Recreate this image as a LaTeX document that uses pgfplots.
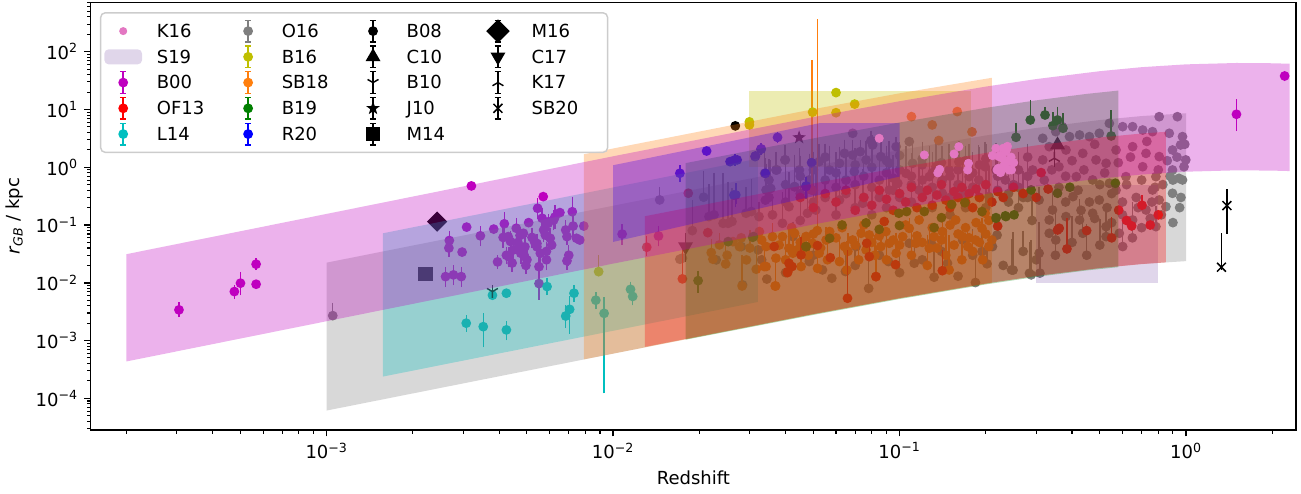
\documentclass[border=0pt]{standalone}
\usepackage{fontspec}
\setmainfont{DejaVu Sans}
\usepackage{pgfplots}
\usepackage{pgfplotstable}
\pgfplotsset{compat=1.18}
\usetikzlibrary{plotmarks}
\definecolor{mplm}{RGB}{191,0,191}
\definecolor{mplr}{RGB}{255,0,0}
\definecolor{mplc}{RGB}{0,191,191}
\definecolor{tgray}{RGB}{127,127,127}
\definecolor{mply}{RGB}{191,191,0}
\definecolor{torange}{RGB}{255,127,14}
\definecolor{mplg}{RGB}{0,128,0}
\definecolor{mplb}{RGB}{0,0,255}
\definecolor{tpink}{RGB}{227,119,194}
\definecolor{rpurple}{RGB}{102,51,153}

\pgfdeclareplotmark{fivestar}{%
  \pgfpathmoveto{\pgfpointpolar{90}{\pgfplotmarksize}}%
  \pgfpathlineto{\pgfpointpolar{126}{0.4\pgfplotmarksize}}%
  \pgfpathlineto{\pgfpointpolar{162}{\pgfplotmarksize}}%
  \pgfpathlineto{\pgfpointpolar{198}{0.4\pgfplotmarksize}}%
  \pgfpathlineto{\pgfpointpolar{234}{\pgfplotmarksize}}%
  \pgfpathlineto{\pgfpointpolar{270}{0.4\pgfplotmarksize}}%
  \pgfpathlineto{\pgfpointpolar{306}{\pgfplotmarksize}}%
  \pgfpathlineto{\pgfpointpolar{342}{0.4\pgfplotmarksize}}%
  \pgfpathlineto{\pgfpointpolar{18}{\pgfplotmarksize}}%
  \pgfpathlineto{\pgfpointpolar{54}{0.4\pgfplotmarksize}}%
  \pgfpathclose\pgfusepathqfill}

\pgfplotstableread{
x y ep em
3.05e-4 3.4e-3 0.2 0.15
4.76e-4 7.05e-3 0.15 0.15
5.0e-4 9.85e-3 0.38 0.3
5.67e-4 0.021 0.12 0.1
5.67e-4 9.45e-3 0 0
3.2e-3 0.475 0 0
5.7e-3 0.31 0 0
2.68e-3 0.054 0.3 0.25
2.67e-3 0.040 0.2 0.2
2.97e-3 0.034 0 0
3.08e-3 0.092 0 0
3.44e-3 0.065 0.3 0.25
3.83e-3 0.085 0 0
3.95e-3 0.023 0.15 0.15
4.17e-3 0.105 0.4 0.3
4.13e-3 0.061 0.3 0.25
4.24e-3 0.030 0.2 0.2
4.30e-3 0.063 0 0
4.38e-3 0.052 0.35 0.3
4.44e-3 0.022 0.2 0.2
4.48e-3 0.037 0.3 0.25
4.59e-3 0.088 0.3 0.25
4.65e-3 0.050 0 0
4.73e-3 0.066 0.2 0.2
4.76e-3 0.0325 0.3 0.25
4.86e-3 0.072 0 0
4.92e-3 0.042 0.3 0.25
4.96e-3 0.020 0.2 0.2
5.0e-3 0.025 0.3 0.25
5.07e-3 0.110 0 0
5.21e-3 0.061 0.3 0.25
5.31e-3 0.052 0.2 0.2
5.42e-3 0.042 0 0
5.45e-3 0.195 0.3 0.25
5.51e-3 0.019 0.6 0.4
5.57e-3 0.0325 0.3 0.25
5.65e-3 0.131 0.3 0.25
5.72e-3 0.082 0.4 0.3
5.80e-3 0.067 0 0
5.85e-3 0.025 0.3 0.25
5.95e-3 0.114 0.2 0.2
6.03e-3 0.059 0.3 0.25
6.10e-3 0.045 0 0
6.20e-3 0.122 0.3 0.25
6.26e-3 0.137 0.4 0.3
6.52e-3 0.164 0 0
6.83e-3 0.082 0.3 0.25
6.90e-3 0.063 0.2 0.2
7.00e-3 0.030 0.3 0.25
7.20e-3 0.170 0.6 0.4
7.25e-3 0.096 0.3 0.25
7.45e-3 0.059 0 0
7.65e-3 0.055 0 0
7.90e-3 0.096 0 0
2.60e-3 0.0128 0.3 0.25
2.77e-3 0.0137 0.3 0.25
2.95e-3 0.0128 0.3 0.25
5.51e-3 0.0097 0.6 0.4
5.85e-3 0.035 0.3 0.25
5.93e-3 0.107 0 0
6.90e-3 0.024 0.2 0.2
5.42e-3 0.048 0.3 0.25
4.89e-3 0.030 0 0
4.69e-3 0.042 0.2 0.2
4.33e-3 0.028 0.3 0.25
0.01075 0.0697 0.3 0.25
0.0144 0.0646 0.3 0.25
1.50 8.26 0.61 0.42
2.21 38.0 0.08 0.08
}\tabBoo

\pgfplotstableread{
x y ep em
3.07e-3 2.0e-3 0.2 0.2
3.52e-3 1.74e-3 0.53 0.5
4.24e-3 1.53e-3 0.25 0.25
3.79e-3 6.1e-3 0 0
4.24e-3 6.6e-3 0 0
5.88e-3 8.6e-3 0.25 0.2
6.83e-3 2.66e-3 0.35 0.3
7.05e-3 3.47e-3 0.47 0.57
7.30e-3 6.6e-3 0.2 0.2
8.70e-3 5.0e-3 0.2 0.2
9.30e-3 2.96e-3 0.66 0.953
0.0115 7.7e-3 0.2 0.2
0.0117 5.8e-3 0.2 0.2
}\tabLfourteen

\pgfplotstableread{
x y ep em
1.05e-3 2.7e-3 0.48 0
0.0207 0.303 1.53 0
0.0216 0.140 2.2 0
0.0225 0.150 3.7 0
0.0242 0.107 5.5 0
0.0252 0.107 3.6 0
0.0260 0.115 2.3 0
0.0304 0.171 2.2 0
0.0323 0.140 0.6 0
0.0340 0.27 3.7 0
0.0355 0.43 1.7 0
0.0373 0.90 0 0
0.0399 1.34 0.35 0
0.0430 0.46 2.15 0
0.0189 0.080 2.0 0
0.0171 0.0256 0 0
0.0229 0.0249 0 0
0.0280 0.0423 0.5 0
0.0321 0.0371 0 0
0.0424 0.063 0.6 0
0.0485 0.0249 0 0
0.01745 0.0267 0 0
0.01454 0.272 0.5 0
0.0338 0.785 1.2 0
0.0370 0.897 0.8 0
0.0398 1.34 0.6 0
0.0430 0.462 2.0 0
0.0447 0.897 1.1 0
0.0484 0.603 1.5 0
0.0524 1.25 0.8 0
0.0570 0.897 1.3 0
0.0617 1.17 0.7 0
0.0642 1.74 0.5 0
0.0686 1.63 0.6 0
0.0729 1.86 0.4 0
0.0764 1.34 0.9 0
0.0805 2.43 0.3 0
0.0860 1.53 0.8 0
0.0920 1.17 1.1 0
0.0986 0.528 2.5 0
0.1053 0.785 1.6 0
0.111 1.17 1.0 0
0.120 1.10 1.2 0
0.127 0.688 2.0 0
0.134 1.02 1.3 0
0.141 0.603 2.4 0
0.149 0.897 1.5 0
0.161 1.25 1.0 0
0.175 0.688 2.2 0
0.189 0.603 2.5 0
0.199 1.02 1.4 0
0.217 0.897 1.6 0
0.234 0.603 2.2 0
0.0342 0.404 1.5 0
0.0411 0.208 2.5 0
0.0510 0.182 3.0 0
0.0617 0.272 2.0 0
0.0744 0.238 2.5 0
0.0920 0.404 1.5 0
0.117 0.404 1.8 0
0.141 0.354 2.0 0
0.166 0.404 1.5 0
0.205 0.310 2.0 0
0.0390 0.1071 2.0 0
0.0477 0.160 1.5 0
0.0360 0.150 1.0 0
0.0291 0.160 1.5 0
0.0686 3.87 0 0
0.0795 2.90 0.3 0
0.0695 0.84 1.0 0
0.0973 2.27 0.3 0
0.1081 2.78 0 0
0.0283 0.0092 0 0
0.0344 0.0116 0 0
0.0484 0.0233 1.0 0
0.0538 0.0167 0 0
0.0647 0.0157 1.5 0
0.0705 0.0424 0 0
0.0780 0.0080 2.0 0
0.0915 0.0233 0 0
0.1081 0.0483 0 0
0.1125 0.0218 1.0 0
0.132 0.0125 2.0 0
0.147 0.0218 0 0
0.184 0.0101 2.5 0
0.202 0.0213 1.0 0
0.129 0.0483 0 0
0.166 0.0551 0 0
0.194 0.0347 0.8 0
0.211 0.0424 0 0
0.246 0.0167 2.0 0
0.219 0.067 0 0
0.288 0.0137 2.5 0
0.309 0.0147 1.5 0
0.333 0.072 0 0
0.25 0.5 1.0 0
0.27 0.3 1.5 0
0.26 0.9 0.8 0
0.28 1.5 0.5 0
0.24 0.25 2.0 0
0.29 0.12 1.5 0
0.540 5.75 0 0
0.601 5.04 0 0
0.651 5.04 0 0
0.706 4.41 0 0
0.806 7.5 0 0
0.933 7.5 0 0
0.764 4.13 0 0
0.874 3.87 0 0
0.972 3.39 0 0
0.498 3.87 0 0
0.460 3.39 0 0
0.425 3.62 0 0
0.392 3.39 0 0
0.370 5.04 0 0
0.351 4.13 0 0
0.316 3.17 0 0
0.333 2.27 0 0
0.381 1.99 0 0
0.436 1.74 0 0
0.485 1.34 0 0
0.526 1.17 0 0
0.570 1.99 0 0
0.651 2.27 0 0
0.725 1.74 0 0
0.806 1.53 0 0
0.897 1.99 0 0
0.957 2.43 0 0
0.984 1.02 0 0
0.897 0.897 0 0
0.785 0.688 0 0
0.706 1.02 0 0
0.617 0.688 0 0
0.540 0.527 0 0
0.472 0.603 0 0
0.414 0.688 0 0
0.360 1.02 0 0
0.316 1.34 0 0
0.2915 0.897 0 0
0.945 0.643 0 0
0.998 1.34 0 0
0.307 0.271 0.5 0
0.342 0.182 1.0 0
0.381 0.140 0 0
0.425 0.1223 1.0 0
0.472 0.160 0 0
0.526 0.0938 1.2 0
0.585 0.072 0 0
0.651 0.1223 0.8 0
0.725 0.182 0 0
0.806 0.271 0 0
0.897 0.354 0 0
0.972 0.603 0 0
0.785 0.0938 1.0 0
0.436 0.072 1.5 0
0.351 0.0551 2.0 0
0.307 0.0325 2.0 0
0.249 0.0166 3.0 0
0.284 0.0146 2.0 0
0.526 0.063 1.5 0
0.601 0.0424 2.0 0
0.764 0.404 0 0
0.498 0.271 0 0
0.403 0.310 0 0
0.333 0.1223 0 0
0.851 0.208 0 0
0.035 0.3 1.5 0
0.035 0.6 1.0 0
0.040 0.5 1.2 0
0.040 0.25 2.0 0
0.045 0.7 1.0 0
0.045 0.35 1.8 0
0.045 0.12 2.5 0
0.050 0.4 1.5 0
0.050 0.9 0.8 0
0.050 0.25 2.0 0
0.055 0.6 1.2 0
0.055 0.3 2.0 0
0.055 1.5 0.5 0
0.060 0.45 1.5 0
0.060 0.8 1.0 0
0.060 0.15 2.5 0
0.065 0.35 1.8 0
0.065 0.6 1.2 0
0.070 0.5 1.5 0
0.070 1.1 0.7 0
0.070 0.2 2.2 0
0.075 0.7 1.0 0
0.075 0.3 2.0 0
0.080 0.45 1.5 0
0.080 1.0 0.8 0
0.080 0.15 2.5 0
0.085 0.6 1.2 0
0.085 0.3 2.0 0
0.090 0.8 1.0 0
0.090 0.2 2.2 0
0.090 1.3 0.6 0
0.095 0.4 1.5 0
0.095 0.65 1.2 0
0.100 0.3 2.0 0
0.100 0.9 1.0 0
0.100 1.6 0.5 0
0.110 0.5 1.5 0
0.110 0.25 2.0 0
0.110 0.7 1.2 0
0.120 0.35 1.8 0
0.120 0.6 1.2 0
0.120 1.4 0.6 0
0.130 0.45 1.5 0
0.130 0.8 1.0 0
0.130 0.2 2.2 0
0.140 0.55 1.3 0
0.140 1.2 0.7 0
0.150 0.3 2.0 0
0.150 0.7 1.1 0
0.150 0.15 2.5 0
0.160 0.5 1.5 0
0.160 0.9 1.0 0
0.170 0.35 1.8 0
0.170 1.3 0.6 0
0.170 0.2 2.2 0
0.180 0.45 1.5 0
0.180 0.8 1.0 0
0.190 0.3 2.0 0
0.190 1.1 0.8 0
0.200 0.5 1.5 0
0.200 0.2 2.2 0
0.200 1.4 0.6 0
0.220 0.4 1.5 0
0.220 0.7 1.1 0
0.240 0.35 1.8 0
0.240 1.2 0.7 0
0.260 0.45 1.5 0
0.260 0.2 2.2 0
0.280 0.7 1.0 0
0.280 0.3 2.0 0
0.033 0.025 0 0
0.040 0.015 0 0
0.050 0.030 1.0 0
0.058 0.012 0 0
0.070 0.020 1.5 0
0.085 0.030 0 0
0.100 0.015 2.0 0
0.120 0.025 0 0
0.140 0.035 1.0 0
0.160 0.013 0 0
0.180 0.030 1.5 0
0.230 0.020 0 0
0.270 0.035 1.0 0
0.300 0.025 0 0
0.32 0.6 0 0
0.34 0.9 0 0
0.36 0.45 0 0
0.38 0.7 0 0
0.40 1.3 0 0
0.42 0.4 0 0
0.44 0.9 0 0
0.46 0.25 0 0
0.48 2.5 0 0
0.50 0.5 0 0
0.52 0.8 0 0
0.55 0.35 0 0
0.58 1.2 0 0
0.60 0.25 0 0
0.62 0.5 0 0
0.64 1.5 0 0
0.67 0.3 0 0
0.70 0.6 0 0
0.73 2.8 0 0
0.76 0.25 0 0
0.80 0.9 0 0
0.83 0.5 0 0
0.86 1.3 0 0
0.90 0.6 0 0
0.93 1.5 0 0
0.96 0.3 0 0
0.99 2.5 0 0
0.35 0.03 2.0 0
0.40 0.05 1.5 0
0.45 0.03 2.0 0
0.50 0.045 1.5 0
0.55 0.11 0 0
0.60 0.15 0 0
0.65 0.06 1.5 0
0.70 0.09 0 0
0.75 0.13 0 0
0.82 0.15 0 0
0.90 0.11 0 0
0.95 0.2 0 0
0.38 0.25 0 0
0.43 0.18 0 0
0.48 0.13 0 0
0.53 0.2 0 0
0.57 0.4 0 0
0.68 0.2 0 0
0.78 0.45 0 0
0.88 0.7 0 0
}\tabOsixteen

\pgfplotstableread{
x y ep em
0.0324 0.077 0 0
0.0337 0.0191 1.0 0
0.0342 0.0424 0 0
0.0360 0.0630 0.5 0
0.0368 0.0088 1.5 0
0.0390 0.0630 0 0
0.0411 0.0397 0.8 0
0.0430 0.0719 0 0
0.0447 0.0371 0.6 0
0.0453 0.0191 1.2 0
0.0471 0.0630 0 0
0.0497 0.0483 0.4 0
0.0517 0.0178 1.5 0
0.0524 0.0325 0 0
0.0554 0.0551 0.5 0
0.0570 0.077 0 0
0.0617 0.0233 1.0 0
0.0642 0.0424 0 0
0.0654 0.0167 1.8 0
0.0686 0.0551 0 0
0.0734 0.0719 0.4 0
0.0764 0.0371 0 0
0.0784 0.0673 0 0
0.0827 0.0128 2.0 0
0.0860 0.0424 0.5 0
0.0896 0.077 0 0
0.0920 0.0483 0 0
0.0973 0.0325 1.0 0
0.1025 0.0630 0 0
0.1081 0.0877 0.3 0
0.114 0.0483 0 0
0.117 0.1223 0 0
0.127 0.0397 0.8 0
0.132 0.0630 0 0
0.141 0.077 0.4 0
0.149 0.0167 2.5 0
0.157 0.1223 0 0
0.166 0.0630 0 0
0.173 0.0424 1.0 0
0.184 0.0551 0 0
0.194 0.0877 0.3 0
0.199 0.160 0 0
0.205 0.0424 0.6 0
0.110 7.52 0 0
0.159 9.2 0 0
0.130 5.4 0 0
0.137 2.9 0 0
0.179 4.1 0 0
0.0220 0.0333 0.5 0
0.0223 0.0256 0 0
0.0247 0.0212 1.0 0
0.0276 0.0423 0 0
0.0282 0.0088 2.0 0
0.0292 0.0249 0 0
0.0316 0.0172 1.2 0
0.0342 0.0191 0 0
0.0369 0.0088 2.2 0
0.0370 0.0267 0 0
0.0424 0.0325 0.8 0
0.0438 0.0371 0 0
0.0460 0.0325 0 0
0.0473 0.063 0 0
0.0262 0.0516 0 0
0.0235 0.0453 0.4 0
0.0494 0.40 158 0
0.0516 0.08 4000 0
0.025 0.030 0 0
0.028 0.060 0 0
0.030 0.040 0.8 0
0.033 0.055 0 0
0.038 0.045 0 0
0.040 0.025 1.2 0
0.042 0.090 0 0
0.045 0.050 0 0
0.048 0.030 1.0 0
0.050 0.070 0 0
0.053 0.040 0 0
0.056 0.025 1.5 0
0.060 0.060 0 0
0.063 0.090 0 0
0.066 0.035 0.8 0
0.070 0.045 0 0
0.072 0.025 1.5 0
0.075 0.100 0 0
0.080 0.050 0 0
0.082 0.030 1.0 0
0.085 0.065 0 0
0.090 0.025 1.8 0
0.095 0.055 0 0
0.100 0.045 0 0
0.105 0.100 0 0
0.110 0.030 1.2 0
0.115 0.065 0 0
0.120 0.050 0 0
0.125 0.020 2.0 0
0.130 0.090 0 0
0.135 0.040 0 0
0.140 0.055 0 0
0.145 0.030 1.5 0
0.150 0.100 0 0
0.155 0.045 0 0
0.160 0.070 0 0
0.165 0.025 1.8 0
0.170 0.090 0 0
0.175 0.060 0 0
0.180 0.035 1.0 0
0.185 0.110 0 0
0.190 0.050 0 0
0.195 0.025 1.5 0
0.200 0.070 0 0
0.205 0.120 0 0
0.210 0.055 0 0
}\tabSBeighteen

\pgfplotstableread{
x y ep em
0.0658 0.0054 5.0 0
0.0406 0.0150 0 0
0.0453 0.0304 0.8 0
0.0517 0.0441 0 0
0.0573 0.0272 0 0
0.0784 0.0284 0.6 0
0.0768 0.0483 0 0
0.0968 0.0206 0 0
0.141 0.0162 1.0 0
0.220 0.0958 0 0
0.0884 0.115 0 0
0.0365 0.0424 0 0
0.0411 0.0218 0 0
0.0827 0.0128 0 0
0.01745 0.0117 1.8 0
0.0214 0.0738 0 0
0.0131 0.0413 0.4 0.2
0.0183 0.355 0 0
0.0407 0.0156 0 0
0.0421 0.0191 0 0
0.384 0.0386 2.0 0
0.702 0.220 0.3 0
0.646 0.0965 0 0
0.582 0.181 0 0
0.312 0.807 0 0
0.361 0.0879 0 0
0.356 0.082 0 0
0.045 0.30 0 0
0.050 0.20 0 0
0.055 0.35 0 0
0.060 0.25 0 0
0.065 0.40 0 0
0.070 0.18 0 0
0.075 0.30 0 0
0.080 0.22 0 0
0.085 0.40 0 0
0.090 0.28 0 0
0.095 0.18 0 0
0.100 0.35 0 0
0.105 0.25 0 0
0.110 0.45 0 0
0.115 0.20 0 0
0.120 0.30 0 0
0.125 0.40 0 0
0.130 0.22 0 0
0.135 0.33 0 0
0.140 0.50 0 0
0.145 0.27 0 0
0.150 0.20 0 0
0.155 0.38 0 0
0.160 0.30 0 0
0.165 0.45 0 0
0.170 0.25 0 0
0.175 0.35 0 0
0.180 0.20 0 0
0.185 0.42 0 0
0.190 0.30 0 0
0.200 0.50 0 0
0.210 0.25 0 0
0.220 0.38 0 0
0.230 0.30 0 0
0.250 0.45 0 0
0.270 0.35 0 0
0.300 0.30 0 0
0.330 0.42 0 0
0.45 0.08 0 0
0.55 0.06 1.0 0
0.62 0.12 0 0
0.75 0.10 0 0
0.80 0.15 0 0
}\tabOFthirteen

\pgfplotstableread{
x y ep em
0.0570 0.0590 0 0
0.0630 0.100 0 0
0.0764 0.109 0 0
0.0849 0.084 0 0
0.0994 0.160 0 0
0.1058 0.171 0 0
0.122 0.171 0 0
0.132 0.090 0 0
0.140 0.134 0 0
0.152 0.227 0 0
0.169 0.243 0 0
0.194 0.171 0 0
0.217 0.134 0 0
0.234 0.144 0 0
0.0471 0.0424 0 0
0.0309 0.0630 0 0
0.0999 0.098 0 0
0.0198 0.0109 0.3 0.3
0.0252 0.0516 0 0
0.0307 0.0615 0 0
0.0472 0.0423 0 0
0.286 6.58 0.95 0
0.322 8.03 0.22 0
0.356 6.58 0.5 0
0.372 4.73 0.6 0
0.255 3.30 0.58 0
0.548 3.48 1.47 0
0.288 0.405 0 0
0.356 0.355 0 0
0.567 0.529 0 0
0.393 0.451 0 0
0.343 5.24 0.5 0
0.217 0.131 0 0
0.235 0.140 0 0
0.251 0.150 0 0
}\tabBnineteen

\pgfplotstableread{
x y ep em
0.0375 3.29 0.1 0.1
0.0328 2.06 0.1 0.1
0.0313 1.53 0 0
0.0266 1.34 0.1 0.1
0.0256 1.25 0 0
0.0340 0.785 0 0
0.0493 1.20 0 0
0.0471 0.462 0.3 0.3
0.0264 0.33 0 0
0.0171 0.787 0.2 0.2
0.0212 1.91 0 0
0.0271 1.34 0 0
0.0314 1.57 0 0
0.0329 2.07 0 0
0.0268 0.332 0.4 0.3
0.0472 0.474 0 0
}\tabRtwenty

\pgfplotstableread{
x y ep em
0.0299 6.1 0 0
0.0299 5.4 0 0
0.0497 9.0 0 0
0.0600 19.6 0 0
0.0697 12.4 0 0
0.0600 8.8 0 0
8.9e-3 0.0156 0.7 0
}\tabBsixteen

\pgfplotstableread{
x y
0.0849 3.17
0.122 1.63
0.138 0.92
0.136 0.80
0.155 1.70
0.161 2.27
0.174 1.17
0.173 0.897
0.217 2.13
0.222 1.53
0.228 0.96
0.234 1.86
0.241 0.897
0.219 0.897
0.211 1.59
0.221 0.96
0.229 1.43
0.236 1.99
0.240 1.25
0.225 0.807
0.246 0.9
0.230 2.13
0.225 1.6
0.232 1.1
0.245 1.5
0.250 1.2
0.238 2.3
}\tabKsixteen

\pgfplotsset{
  ebar/.style={only marks, mark=*, color=#1, mark size=2.3pt, line width=0.8pt, forget plot,
    error bars/y dir=both, error bars/y explicit relative,
    error bars/error bar style={line width=0.8pt, color=#1},
    error bars/error mark options={mark size=1.8pt, line width=0.8pt, color=#1}},
  band/.style={draw=none, fill=#1, fill opacity=0.3, forget plot},
  legeb/.style={legend image code/.code={
     \path[draw=none,fill=none] (0pt,-6pt) rectangle (21pt,6pt);
     \draw[#1,line width=0.8pt] (10.5pt,-6pt) -- (10.5pt,6pt);
     \draw[#1,line width=0.8pt] (8.7pt,-6pt) -- (12.3pt,-6pt) (8.7pt,6pt) -- (12.3pt,6pt);
     \fill[#1,fill opacity=1] (10.5pt,0pt) circle (2.3pt);}},
  legmk/.style n args={3}{legend image code/.code={
     \path[draw=none,fill=none] (0pt,-6pt) rectangle (21pt,6pt);
     \draw[black,line width=0.8pt] (10.5pt,-6pt) -- (10.5pt,6pt);
     \draw[black,line width=0.8pt] (8.7pt,-6pt) -- (12.3pt,-6pt) (8.7pt,6pt) -- (12.3pt,6pt);
     \draw[black,fill=black,fill opacity=1,line width=0.8pt,mark=#1,mark size=#2,mark options={#3}] plot coordinates {(10.5pt,0pt)};}},
}
\newcommand{\legtxt}[1]{\makebox[44pt][l]{\hspace{6pt}\strut #1}}

\begin{document}
\begin{tikzpicture}
\begin{axis}[
  xmode=log, ymode=log, clip mode=individual,
  scale only axis, width=669.6pt, height=237.4pt,
  xmin=1.50e-4, xmax=2.42, ymin=2.83e-5, ymax=705,
  axis line style={line width=0.8pt},
  tick pos=left, tick align=outside,
  major tick length=3.5pt, minor tick length=2pt,
  every major tick/.style={line width=0.8pt, black},
  every minor tick/.style={line width=0.6pt, black},
  xtick={1e-3,1e-2,1e-1,1},
  xticklabels={10\textsuperscript{−3},10\textsuperscript{−2},10\textsuperscript{−1},10\textsuperscript{0}},
  ytick={1e-4,1e-3,1e-2,1e-1,1,10,100},
  yticklabels={10\textsuperscript{−4},10\textsuperscript{−3},10\textsuperscript{−2},10\textsuperscript{−1},10\textsuperscript{0},10\textsuperscript{1},10\textsuperscript{2}},
  minor xtick={2e-4,3e-4,4e-4,5e-4,6e-4,7e-4,8e-4,9e-4,2e-3,3e-3,4e-3,5e-3,6e-3,7e-3,8e-3,9e-3,0.02,0.03,0.04,0.05,0.06,0.07,0.08,0.09,0.2,0.3,0.4,0.5,0.6,0.7,0.8,0.9,2},
  minor ytick={3e-5,4e-5,5e-5,6e-5,7e-5,8e-5,9e-5,2e-4,3e-4,4e-4,5e-4,6e-4,7e-4,8e-4,9e-4,2e-3,3e-3,4e-3,5e-3,6e-3,7e-3,8e-3,9e-3,0.02,0.03,0.04,0.05,0.06,0.07,0.08,0.09,0.2,0.3,0.4,0.5,0.6,0.7,0.8,0.9,2,3,4,5,6,7,8,9,20,30,40,50,60,70,80,90,200,300,400,500,600,700},
  xlabel={Redshift},
  ylabel={\textit{r}\textsubscript{\textit{GB}} / kpc},
  legend columns=4,
  legend cell align=left,
  legend style={at={(0.0077,0.978)}, anchor=north west,
    draw=black!20, line width=0.8pt, rounded corners=2.5pt, fill=white, fill opacity=0.8, text opacity=1,
    inner xsep=2pt, inner ysep=3pt, row sep=0pt, nodes={inner sep=2.2pt}},
]
% ---- data points (drawn below the shaded ranges)
\addplot[ebar=mplm] table[x=x,y=y,y error plus=ep,y error minus=em] {\tabBoo};
\addplot[ebar=mplc] table[x=x,y=y,y error plus=ep,y error minus=em] {\tabLfourteen};
\addplot[ebar=tgray] table[x=x,y=y,y error plus=ep,y error minus=em] {\tabOsixteen};
\addplot[ebar=torange] table[x=x,y=y,y error plus=ep,y error minus=em] {\tabSBeighteen};
\addplot[ebar=mplr] table[x=x,y=y,y error plus=ep,y error minus=em] {\tabOFthirteen};
\addplot[ebar=mplg] table[x=x,y=y,y error plus=ep,y error minus=em] {\tabBnineteen};
\addplot[ebar=mplb] table[x=x,y=y,y error plus=ep,y error minus=em] {\tabRtwenty};
\addplot[ebar=mply] table[x=x,y=y,y error plus=ep,y error minus=em] {\tabBsixteen};
% black markers
\addplot[ebar=black, mark=*, mark size=2.3pt] coordinates {(0.0267,5.2)};
\addplot[ebar=black, mark=triangle*, mark size=4pt] coordinates {(0.356,2.43)};
\addplot[ebar=black, mark=Mercedes star flipped, mark size=3.5pt] coordinates {(3.79e-3,7.05e-3) += (0,0.15) -= (0,0.1)};
\addplot[ebar=black, mark=fivestar, mark size=4pt] coordinates {(0.0446,3.27)};
\addplot[ebar=black, mark=square*, mark size=3.6pt] coordinates {(2.21e-3,0.0141)};
\addplot[ebar=black, mark=square*, mark size=3.6pt, mark options={rotate=45}] coordinates {(2.43e-3,0.1146)};
\addplot[ebar=black, mark=triangle*, mark size=4pt, mark options={rotate=180}] coordinates {(0.0179,0.0423) += (0,0.5) -= (0,0.38)};
\addplot[ebar=black, mark=Mercedes star, mark size=3.5pt] coordinates {(0.347,1.43) += (0,0.3) -= (0,0.2)};
\addplot[ebar=black, mark=x, mark size=3.5pt] coordinates {(1.389,0.217) += (0,0.68) -= (0,0.63) (1.33,0.0186) += (0,2.4) -= (0,0)};
% ---- shaded ranges
\addplot[band=tgray] coordinates {(1e-3,0.02234) (0.05,1.052) (0.1,1.982) (0.2,3.548) (0.3,4.786) (0.5,6.561) (0.7,7.691) (1.0,8.610) (1.0,0.02371) (0.7,0.02118) (0.5,0.01807) (0.3,0.01318) (0.2,9.77e-3) (0.1,5.458e-3) (0.05,2.897e-3) (1e-3,6.15e-5)} -- cycle;
\addplot[draw=none, fill=rpurple, fill opacity=0.2, forget plot] coordinates {(0.3,0.01) (0.3,0.5) (0.8,0.5) (0.8,0.01)} -- cycle;
\addplot[band=mplc] coordinates {(1.57e-3,0.0719) (0.032,1.409) (0.032,4.656e-3) (1.57e-3,2.377e-4)} -- cycle;
\addplot[band=mply] coordinates {(0.0298,1.0) (0.0298,20.9) (0.178,20.9) (0.178,1.0)} -- cycle;
\addplot[band=torange] coordinates {(7.9e-3,1.679) (0.05,10.12) (0.1,19.05) (0.21,35.4) (0.21,9.95e-3) (0.1,5.36e-3) (0.05,2.844e-3) (7.9e-3,4.72e-4)} -- cycle;
\addplot[band=mplg] coordinates {(0.0179,1.178) (0.05,3.162) (0.1,5.957) (0.2,10.67) (0.3,14.39) (0.45,18.62) (0.58,21.23) (0.58,0.01866) (0.45,0.01637) (0.3,0.01265) (0.2,9.376e-3) (0.1,5.236e-3) (0.05,2.780e-3) (0.0179,1.035e-3)} -- cycle;
\addplot[band=mplr] coordinates {(0.0129,0.1419) (0.05,0.5248) (0.1,0.9886) (0.2,1.770) (0.3,2.388) (0.5,3.273) (0.7,3.837) (0.85,4.111) (0.85,0.02254) (0.7,0.02104) (0.5,0.01795) (0.3,0.01309) (0.2,9.705e-3) (0.1,5.420e-3) (0.05,2.877e-3) (0.0129,7.78e-4)} -- cycle;
\addplot[band=mplb] coordinates {(0.01,1.084) (0.0526,5.8) (0.1,5.8) (0.1,0.69) (0.01,0.051)} -- cycle;
\addplot[band=mplm] coordinates {(2e-4,0.0313) (0.01,1.549) (0.05,7.38) (0.1,13.9) (0.2,24.9) (0.3,33.6) (0.5,46.0) (0.7,54.0) (1.0,60.4) (1.5,63.8) (2.0,63.1) (2.3,61.9) (2.3,0.859) (2.0,0.875) (1.5,0.885) (1.0,0.838) (0.7,0.748) (0.5,0.638) (0.3,0.466) (0.2,0.345) (0.1,0.1928) (0.05,0.1023) (0.01,0.02148) (2e-4,4.35e-4)} -- cycle;
% ---- K16 on top
\addplot[only marks, mark=*, mark size=2.3pt, color=tpink, forget plot] table[x=x,y=y] {\tabKsixteen};
% ---- legend (row-major for 4 columns)
\addlegendimage{legend image code/.code={\path[draw=none,fill=none] (0pt,-6pt) rectangle (21pt,6pt); \fill[tpink,fill opacity=1] (10.5pt,0pt) circle (1.8pt);}}
\addlegendentry{\legtxt{K16}}
\addlegendimage{legeb=tgray}\addlegendentry{\legtxt{O16}}
\addlegendimage{legmk={*}{2.3pt}{}}\addlegendentry{\legtxt{B08}}
\addlegendimage{legmk={square*}{4.2pt}{rotate=45}}\addlegendentry{\legtxt{M16}}
\addlegendimage{legend image code/.code={\path[draw=none,fill=none] (0pt,-6pt) rectangle (21pt,6pt); \fill[rpurple, fill opacity=0.2, draw=none] (0pt,-4.2pt) rectangle (21pt,4.2pt);}}
\addlegendentry{\legtxt{S19}}
\addlegendimage{legeb=mply}\addlegendentry{\legtxt{B16}}
\addlegendimage{legmk={triangle*}{4pt}{}}\addlegendentry{\legtxt{C10}}
\addlegendimage{legmk={triangle*}{4pt}{rotate=180}}\addlegendentry{\legtxt{C17}}
\addlegendimage{legeb=mplm}\addlegendentry{\legtxt{B00}}
\addlegendimage{legeb=torange}\addlegendentry{\legtxt{SB18}}
\addlegendimage{legmk={Mercedes star flipped}{3.5pt}{}}\addlegendentry{\legtxt{B10}}
\addlegendimage{legmk={Mercedes star}{3.5pt}{}}\addlegendentry{\legtxt{K17}}
\addlegendimage{legeb=mplr}\addlegendentry{\legtxt{OF13}}
\addlegendimage{legeb=mplg}\addlegendentry{\legtxt{B19}}
\addlegendimage{legmk={fivestar}{4pt}{}}\addlegendentry{\legtxt{J10}}
\addlegendimage{legmk={x}{3.5pt}{}}\addlegendentry{\legtxt{SB20}}
\addlegendimage{legeb=mplc}\addlegendentry{\legtxt{L14}}
\addlegendimage{legeb=mplb}\addlegendentry{\legtxt{R20}}
\addlegendimage{legmk={square*}{3.6pt}{}}\addlegendentry{\legtxt{M14}}
\addlegendimage{empty legend}\addlegendentry{}
\end{axis}
\pgfresetboundingbox
\path (current axis.south west) +(-50.4pt,-35pt) (current axis.north east) +(2.8pt,1.5pt);
\end{tikzpicture}
\end{document}
